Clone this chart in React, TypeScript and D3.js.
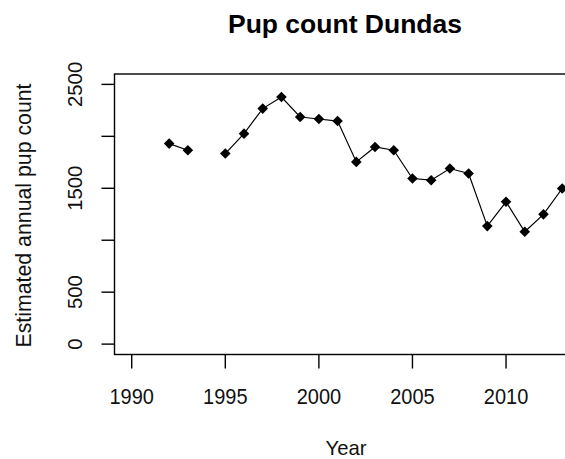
import * as d3 from "d3";

const years = [
  1990, 1991, 1992, 1993, 1994, 1995, 1996, 1997, 1998, 1999, 2000, 2001,
  2002, 2003, 2004, 2005, 2006, 2007, 2008, 2009, 2010, 2011, 2012, 2013,
];
const pupCounts = [
  null, null, 1930, 1866, null, 1834, 2026, 2267, 2378, 2186, 2167, 2147,
  1754, 1898, 1866, 1594, 1578, 1690, 1642, 1136, 1370, 1081, 1249, 1498,
];
const xTicks = [1990, 1995, 2000, 2005, 2010];
const yTicks = [0, 500, 1000, 1500, 2000, 2500];
const yTickLabels = ["0", "500", "", "1500", "", "2500"];

const App = () => {
  const width = 565;
  const height = 459;
  const box = { left: 114.5, right: 579.4, top: 74, bottom: 354.5 };
  const font = "'Liberation Sans', Arial, sans-serif";

  const xScale = d3
    .scaleLinear()
    .domain([1989.08, 2013.92])
    .range([box.left, box.right]);
  const yScale = d3
    .scaleLinear()
    .domain([-100, 2600])
    .range([box.bottom, box.top]);

  const points = years.map((y, i) => ({ year: y, count: pupCounts[i] }));

  const line = d3
    .line()
    .defined((d) => d.count != null)
    .x((d) => xScale(d.year))
    .y((d) => yScale(d.count));

  // pch 18 style: filled square turned 45 degrees
  const diamond = d3.symbol().type(d3.symbolSquare).size(56)();

  return (
    <svg
      width={width}
      height={height}
      style={{ position: "absolute", left: 0, top: 0, background: "#fff" }}
      fontFamily={font}
    >
      <text
        x={345}
        y={33.3}
        textAnchor="middle"
        fontSize={26.5}
        fontWeight="bold"
      >
        Pup count Dundas
      </text>

      <rect
        x={box.left}
        y={box.top}
        width={box.right - box.left}
        height={box.bottom - box.top}
        fill="none"
        stroke="#000"
        strokeWidth={1.4}
      />

      {xTicks.map((t) => (
        <g key={t}>
          <line
            x1={xScale(t)}
            x2={xScale(t)}
            y1={box.bottom}
            y2={box.bottom + 14}
            stroke="#000"
            strokeWidth={1.4}
          />
          <text
            transform={`translate(${xScale(t)},404) scale(1,1.1)`}
            textAnchor="middle"
            fontSize={20}
            fill="#111"
          >
            {t}
          </text>
        </g>
      ))}

      {yTicks.map((t, i) => (
        <g key={t}>
          <line
            x1={box.left - 13}
            x2={box.left}
            y1={yScale(t)}
            y2={yScale(t)}
            stroke="#000"
            strokeWidth={1.4}
          />
          {yTickLabels[i] && (
            <text
              transform={`translate(81.7,${yScale(t)}) rotate(-90)`}
              textAnchor="middle"
              fontSize={20.3}
              fill="#111"
            >
              {yTickLabels[i]}
            </text>
          )}
        </g>
      ))}

      <text
        x={346}
        y={455}
        textAnchor="middle"
        fontSize={20.3}
        fill="#111"
      >
        Year
      </text>
      <text
        transform="translate(31,215.5) rotate(-90)"
        textAnchor="middle"
        fontSize={21.3}
        fill="#111"
      >
        Estimated annual pup count
      </text>

      <path d={line(points)} fill="none" stroke="#000" strokeWidth={1.2} />
      {points
        .filter((d) => d.count != null)
        .map((d) => (
          <path
            key={d.year}
            d={diamond}
            transform={`translate(${xScale(d.year)},${yScale(d.count)}) rotate(45)`}
            fill="#000"
          />
        ))}
    </svg>
  );
};

export default App;
